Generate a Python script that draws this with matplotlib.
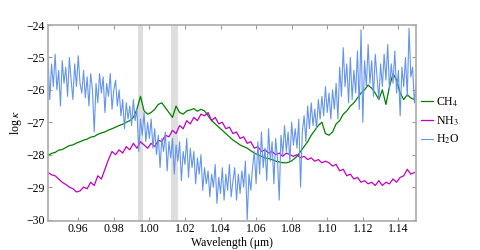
import numpy as np
import matplotlib
matplotlib.use("Agg")
import matplotlib.pyplot as plt

# opacity spectra, log kappa per species
# CH4 and NH3 on a 0.002 um grid, H2O on a 0.001 um grid
wl_coarse = np.round(np.arange(104) * 0.002 + 0.943, 4)
wl_fine = np.round(np.arange(208) * 0.001 + 0.943, 4)

ch4 = [
    -28.02, -27.96, -27.93, -27.86, -27.84, -27.78, -27.72, -27.70, -27.64, -27.60,
    -27.55, -27.52, -27.46, -27.44, -27.37, -27.33, -27.30, -27.24, -27.20, -27.15,
    -27.10, -27.06, -27.00, -26.95, -26.85, -26.60, -26.20, -26.65, -26.75, -26.70,
    -26.60, -26.45, -26.40, -26.55, -26.70, -26.85, -26.50, -26.70, -26.75, -26.65,
    -26.62, -26.58, -26.66, -26.60, -26.65, -26.80, -26.95, -27.05, -27.15, -27.25,
    -27.35, -27.45, -27.55, -27.62, -27.70, -27.75, -27.80, -27.88, -27.95, -28.00,
    -28.05, -28.10, -28.12, -28.15, -28.20, -28.22, -28.25, -28.25, -28.22, -28.15,
    -28.05, -27.90, -27.75, -27.60, -27.40, -27.25, -27.10, -27.00, -27.35, -27.40,
    -27.30, -27.05, -26.95, -26.75, -26.65, -26.50, -26.40, -26.25, -26.10, -26.00,
    -25.85, -25.95, -26.10, -26.30, -26.00, -26.45, -25.90, -25.50, -25.70, -26.10,
    -26.30, -26.15, -26.25, -26.30,
]

nh3 = [
    -28.55, -28.62, -28.65, -28.75, -28.85, -28.92, -29.00, -29.05, -29.15, -29.12,
    -29.00, -29.05, -28.85, -28.95, -28.65, -28.75, -28.45, -28.15, -27.90, -28.00,
    -27.85, -27.95, -27.75, -27.85, -27.65, -27.80, -27.60, -27.70, -27.80, -27.65,
    -27.75, -27.55, -27.60, -27.40, -27.45, -27.25, -27.35, -27.10, -27.20, -26.95,
    -27.05, -26.85, -26.95, -26.75, -26.80, -26.70, -26.95, -26.85, -27.05, -27.00,
    -27.20, -27.15, -27.35, -27.30, -27.50, -27.45, -27.65, -27.60, -27.80, -27.75,
    -27.90, -27.85, -27.95, -27.90, -28.00, -27.95, -28.05, -27.95, -28.00, -28.05,
    -28.00, -28.10, -28.05, -28.15, -28.10, -28.20, -28.15, -28.25, -28.20, -28.25,
    -28.35, -28.30, -28.50, -28.45, -28.65, -28.60, -28.75, -28.70, -28.85, -28.80,
    -28.90, -28.85, -28.95, -28.80, -28.95, -28.85, -28.90, -28.75, -28.85, -28.70,
    -28.65, -28.45, -28.60, -28.55,
]

h2o = [
    -25.0, -26.3, -25.2, -25.9, -24.9, -26.0, -25.4, -26.5, -25.1, -25.8,
    -25.3, -26.2, -25.0, -25.7, -26.3, -25.2, -25.9, -24.95, -25.8, -26.1,
    -25.4, -26.25, -25.6, -26.5, -25.5, -26.0, -27.3, -25.8, -26.4, -25.5,
    -26.1, -25.6, -26.7, -25.8, -26.2, -25.5, -26.6, -26.0, -25.7, -26.5,
    -26.0, -26.8, -26.3, -27.2, -26.4, -26.9, -26.5, -27.1, -26.3, -26.95,
    -26.6, -27.9, -26.9, -27.4, -26.7, -27.6, -27.0, -27.5, -26.9, -27.8,
    -27.2, -28.0, -27.4, -28.4, -27.5, -27.9, -27.3, -28.5, -27.6, -28.1,
    -27.5, -28.6, -27.7, -28.2, -27.6, -28.8, -27.9, -28.3, -27.5, -28.7,
    -27.8, -28.4, -27.9, -28.9, -28.1, -28.6, -28.0, -29.1, -28.4, -28.9,
    -28.5, -29.3, -28.6, -29.0, -28.3, -29.5, -28.7, -29.2, -28.4, -29.4,
    -28.6, -29.1, -28.3, -29.3, -28.8, -28.4, -29.4, -28.6, -29.2, -28.5,
    -29.0, -28.2, -30.0, -28.6, -29.1, -28.4, -27.9, -28.9, -27.6, -28.6,
    -27.3, -28.4, -27.8, -28.8, -27.2, -28.2, -27.6, -28.9, -27.5, -28.1,
    -29.4, -27.4, -28.0, -27.1, -27.9, -27.3, -28.2, -27.0, -27.7, -27.2,
    -27.8, -26.9, -29.0, -27.3, -26.8, -27.6, -26.5, -27.2, -26.4, -27.1,
    -26.6, -27.2, -26.3, -26.9, -26.2, -26.8, -25.9, -26.7, -26.1, -26.9,
    -26.0, -26.6, -25.8, -26.9, -25.3, -26.2, -24.7, -25.9, -25.2, -26.4,
    -25.0, -26.3, -25.4, -26.1, -24.8, -26.6, -24.15, -27.0, -25.1, -25.9,
    -24.6, -25.8, -25.1, -26.2, -24.9, -25.6, -26.3, -25.2, -25.9, -24.9,
    -25.7, -24.6, -26.0, -25.2, -25.8, -24.8, -26.1, -25.4, -26.8, -25.3,
    -25.9, -25.0, -26.2, -24.1, -25.6, -25.3, -26.4, -25.8,
]

# masked wavelength windows
bands = [(0.9938, 0.9966), (1.0123, 1.0163)]

xticks = [0.96, 0.98, 1.00, 1.02, 1.04, 1.06, 1.08, 1.10, 1.12, 1.14]
yticks = [-30, -29, -28, -27, -26, -25, -24]

plt.rcParams['font.family'] = ['Liberation Serif', 'DejaVu Serif']
plt.rcParams['mathtext.fontset'] = 'stix'
plt.rcParams['font.size'] = 8.5

fig = plt.figure(figsize=(4.8, 2.5), dpi=100)
ax = fig.add_axes([0.1, 0.118, 0.767, 0.782])

for lo, hi in bands:
    ax.axvspan(lo, hi, color='#dedede', lw=0, zorder=0)

ax.plot(wl_coarse, ch4, color='green', lw=0.9, label=r'CH$_4$')
ax.plot(wl_coarse, nh3, color='#c000c0', lw=0.9, label=r'NH$_3$')
ax.plot(wl_fine, h2o, color='cornflowerblue', lw=0.8, label=r'H$_2$O')

ax.set_xlim(0.943, 1.15)
ax.set_ylim(-30.03, -24)
ax.set_xticks(xticks)
ax.set_xticklabels([f'{t:.2f}' for t in xticks])
ax.set_yticks(yticks)
ax.set_xlabel('Wavelength (\u03bcm)', va='center')
ax.xaxis.set_label_coords(0.5, -0.114)
ax.set_ylabel(r'log $\kappa$', labelpad=2)

for s in ax.spines.values():
    s.set_color('#aaaaaa')
    s.set_linewidth(1.2)
ax.tick_params(direction='in', top=True, right=True, length=3,
               color='#999999')
ax.tick_params(axis='x', pad=1.5)
ax.tick_params(axis='y', pad=2)

ax.legend(loc='center left', bbox_to_anchor=(1.0, 0.51), frameon=False,
          handlelength=1.0, handletextpad=0.3, borderaxespad=0.0,
          labelspacing=0.45)

fig.savefig('out.png', dpi=100)
